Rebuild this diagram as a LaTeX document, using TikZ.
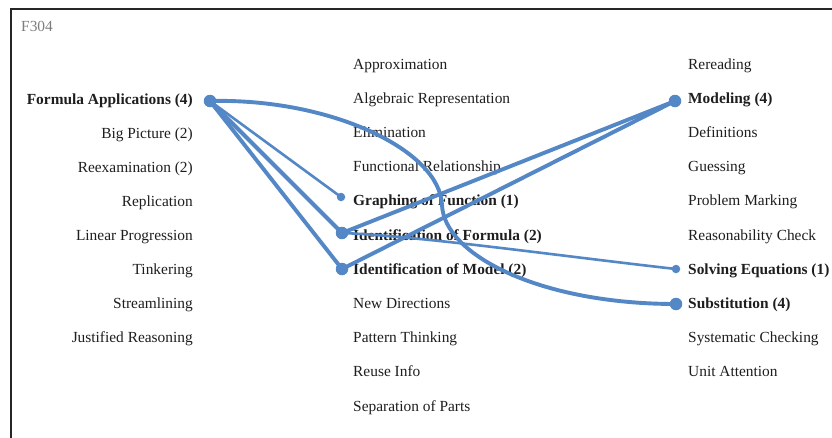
\documentclass[tikz,border=0pt]{standalone}
\usepackage{fontspec}
\setmainfont{Liberation Serif}
\definecolor{linkblue}{RGB}{84,135,198}
\definecolor{labelgray}{RGB}{125,125,125}
\definecolor{ink}{RGB}{30,30,30}
\begin{document}
\begin{tikzpicture}[x=1pt,y=-1pt,
  lbl/.style={inner sep=0pt,text=ink,font=\fontsize{15.4}{17}\selectfont,text height=10.5pt,text depth=3.3pt},
  lft/.style={lbl,anchor=east},
  rgt/.style={lbl,anchor=west},
  key/.style={font=\fontsize{15.4}{17}\selectfont\bfseries},
  bigdot/.style={circle,fill=linkblue,inner sep=0pt,minimum size=12.5pt},
  smalldot/.style={circle,fill=linkblue,inner sep=0pt,minimum size=8.5pt},
  thicklink/.style={draw=linkblue,line width=3.9pt,line cap=round},
  thinlink/.style={draw=linkblue,line width=2.6pt,line cap=round}]
\useasboundingbox (0,0) rectangle (832,437);
\fill[white] (0,0) rectangle (832,437);
% frame
\draw[line width=2pt,black!85] (11,440) -- (11,9) -- (835,9);
\node[rgt,text=labelgray] (title) at (21,28) {F304};

% left column
\node[lft,key] (fa) at (193,101) {Formula Applications (4)};
\node[lft] (bp) at (193,135) {Big Picture (2)};
\node[lft] (re) at (193,169) {Reexamination (2)};
\node[lft] (rp) at (193,203) {Replication};
\node[lft] (lp) at (193,237) {Linear Progression};
\node[lft] (tk) at (193,271) {Tinkering};
\node[lft] (st) at (193,305) {Streamlining};
\node[lft] (jr) at (193,339) {Justified Reasoning};

% middle column
\node[rgt] (ap) at (353,66) {Approximation};
\node[rgt] (ar) at (353,100) {Algebraic Representation};
\node[rgt] (el) at (353,134) {Elimination};
\node[rgt] (fr) at (353,168) {Functional Relationship};
\node[rgt,key] (gf) at (353,202) {Graphing of Function (1)};
\node[rgt,key] (if) at (353,237) {Identification of Formula (2)};
\node[rgt,key] (im) at (353,271) {Identification of Model (2)};
\node[rgt] (nd) at (353,305) {New Directions};
\node[rgt] (pt) at (353,339) {Pattern Thinking};
\node[rgt] (ri) at (353,373) {Reuse Info};
\node[rgt] (sp) at (353,408) {Separation of Parts};

% right column
\node[rgt] (rr) at (688,66) {Rereading};
\node[rgt,key] (md) at (688,100) {Modeling (4)};
\node[rgt] (df) at (688,134) {Definitions};
\node[rgt] (gs) at (688,168) {Guessing};
\node[rgt] (pm) at (688,202) {Problem Marking};
\node[rgt] (rc) at (688,237) {Reasonability Check};
\node[rgt,key] (se) at (688,271) {Solving Equations (1)};
\node[rgt,key] (sb) at (688,305) {Substitution (4)};
\node[rgt] (sc) at (688,339) {Systematic Checking};
\node[rgt] (ua) at (688,373) {Unit Attention};

% connector end points
\node[bigdot] (pfa) at (210,101) {};
\node[smalldot] (pgf) at (341,197) {};
\node[bigdot] (pif) at (342,233) {};
\node[bigdot] (pim) at (342,269) {};
\node[bigdot] (pmd) at (675,101) {};
\node[smalldot] (pse) at (676,269) {};
\node[bigdot] (psb) at (676,304) {};

% connectors
\draw[thinlink] (pfa.center) -- (pgf.center);
\draw[thicklink] (pfa.center) -- (pif.center);
\draw[thicklink] (pfa.center) -- (pim.center);
\draw[thicklink] (pfa.center) .. controls (330,98) and (440,150) .. (442,205)
  .. controls (444,255) and (540,304) .. (psb.center);
\draw[thicklink] (pif.center) -- (pmd.center);
\draw[thicklink] (pim.center) -- (pmd.center);
\draw[thinlink] (pif.center) .. controls (420,236) and (560,256) .. (pse.center);
\end{tikzpicture}
\end{document}
